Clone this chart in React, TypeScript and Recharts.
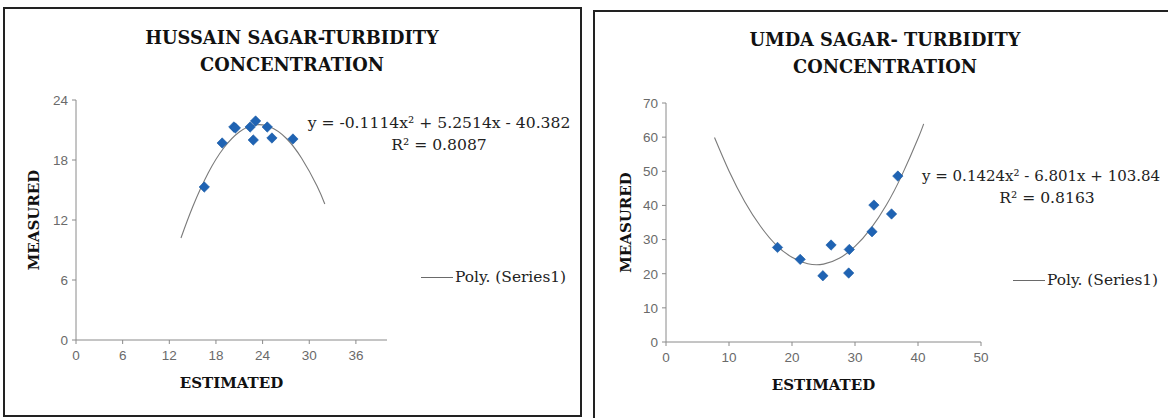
import React from 'react';
import { ScatterChart, Scatter, XAxis, YAxis, Label } from 'recharts';

// ---- Hussain Sagar (left) ----
const hsEstimated = [16.5, 18.8, 20.3, 20.5, 22.4, 22.8, 23.1, 24.6, 25.2, 27.9];
const hsMeasured = [15.3, 19.7, 21.3, 21.2, 21.3, 20.0, 21.9, 21.3, 20.2, 20.1];
const hsTrendX = [13.5, 15, 17, 19, 21, 23, 25, 27, 29, 31, 32];
const hsTrendY = [10.2, 13.3, 16.7, 19.2, 20.8, 21.5, 21.3, 20.2, 18.2, 15.4, 13.6];
const hsXTicks = [0, 6, 12, 18, 24, 30, 36];
const hsYTicks = [0, 6, 12, 18, 24];

// ---- Umda Sagar (right) ----
const usEstimated = [17.7, 21.3, 24.9, 26.2, 29.1, 29.0, 32.7, 33.0, 35.8, 36.8];
const usMeasured = [27.7, 24.2, 19.4, 28.4, 27.1, 20.2, 32.3, 40.1, 37.5, 48.6];
const usTrendX = [7.7, 10, 12.5, 15, 17.5, 20, 22.5, 25, 27.5, 30, 32.5, 35, 37.5, 40, 40.9];
const usTrendY = [59.9, 50.1, 41.1, 33.9, 28.4, 24.8, 22.9, 22.8, 24.5, 28.0, 33.2, 40.2, 49.1, 59.6, 63.9];
const usXTicks = [0, 10, 20, 30, 40, 50];
const usYTicks = [0, 10, 20, 30, 40, 50, 60, 70];

const zip = (xs: number[], ys: number[]) => xs.map((x, i) => ({ x, y: ys[i] }));

const hsPoints = zip(hsEstimated, hsMeasured);
const hsTrend = zip(hsTrendX, hsTrendY);
const usPoints = zip(usEstimated, usMeasured);
const usTrend = zip(usTrendX, usTrendY);

const POINT = '#1F63B3';
const AXIS = '#8a8a8a';
const TICK_FONT = { fill: '#6a6a6a', fontSize: 13.5, fontFamily: 'Liberation Sans, Arial, sans-serif' };
const SERIF = 'DejaVu Serif, serif';

const Diamond = (props: any) => {
  const { cx, cy } = props;
  const r = 5.2;
  return (
    <polygon
      points={`${cx},${cy - r} ${cx + r},${cy} ${cx},${cy + r} ${cx - r},${cy}`}
      fill={POINT}
      stroke="#1a5aa5"
      strokeWidth={0.6}
    />
  );
};
const NoShape = () => <g />;

const titleStyle: React.CSSProperties = {
  position: 'absolute',
  fontFamily: SERIF,
  fontWeight: 'bold',
  fontSize: 17.8,
  lineHeight: '27px',
  textAlign: 'center',
  color: '#111',
  whiteSpace: 'nowrap',
};
const eqStyle: React.CSSProperties = {
  position: 'absolute',
  fontFamily: SERIF,
  fontSize: 15.6,
  lineHeight: '22px',
  textAlign: 'center',
  color: '#222',
  whiteSpace: 'nowrap',
};
const legendText: React.CSSProperties = {
  position: 'absolute',
  fontFamily: SERIF,
  fontSize: 15.4,
  color: '#222',
  whiteSpace: 'nowrap',
  lineHeight: '18px',
};

const axisTitle = { fontFamily: SERIF, fontWeight: 'bold' as const, fontSize: 15, fill: '#111' };

export default function App() {
  return (
    <div style={{ position: 'absolute', left: 0, top: 0, width: 1168, height: 418, overflow: 'hidden', background: '#fff' }}>
      {/* Left panel */}
      <div style={{ position: 'absolute', left: 3, top: 7, width: 579, height: 410, border: '2px solid #222', boxSizing: 'border-box' }} />
      <div style={{ position: 'absolute', left: 0, top: 0 }}>
        <ScatterChart width={584} height={418} margin={{ top: 100, right: 197, bottom: 48, left: 36 }}>
          <XAxis
            type="number"
            dataKey="x"
            domain={[0, 40]}
            ticks={hsXTicks}
            allowDataOverflow
            height={30}
            stroke={AXIS}
            tick={TICK_FONT}
            tickSize={4}
            tickMargin={6}
            tickLine={{ stroke: AXIS }}
            axisLine={{ stroke: AXIS }}
          >
            <Label value="ESTIMATED" position="center" dy={28} style={axisTitle} />
          </XAxis>
          <YAxis
            type="number"
            dataKey="y"
            domain={[0, 24]}
            ticks={hsYTicks}
            allowDataOverflow
            width={40}
            stroke={AXIS}
            tick={TICK_FONT}
            tickSize={4}
            tickMargin={4}
            tickLine={{ stroke: AXIS }}
            axisLine={{ stroke: AXIS }}
          >
            <Label value="MEASURED" angle={-90} position="center" dx={-22} style={axisTitle} />
          </YAxis>
          <Scatter
            data={hsTrend}
            line={{ stroke: '#7a7a7a', strokeWidth: 1.1 }}
            lineType="joint"
            lineJointType="natural"
            shape={NoShape}
            isAnimationActive={false}
          />
          <Scatter data={hsPoints} shape={Diamond} isAnimationActive={false} />
        </ScatterChart>
      </div>
      <div style={{ ...titleStyle, left: 92, width: 400, top: 24 }}>
        HUSSAIN SAGAR-TURBIDITY
        <br />
        CONCENTRATION
      </div>
      <div style={{ ...eqStyle, left: 289, width: 300, top: 112 }}>
        y = -0.1114x² + 5.2514x - 40.382
        <br />
        R² = 0.8087
      </div>
      <div style={{ position: 'absolute', left: 421, top: 277, width: 32, height: 1.4, background: '#6a6a6a' }} />
      <div style={{ ...legendText, left: 455, top: 268 }}>Poly. (Series1)</div>

      {/* Right panel */}
      <div style={{ position: 'absolute', left: 593, top: 10, width: 600, height: 430, border: '2px solid #222', boxSizing: 'border-box' }} />
      <div style={{ position: 'absolute', left: 584, top: 0 }}>
        <ScatterChart width={584} height={418} margin={{ top: 103, right: 187, bottom: 46, left: 42 }}>
          <XAxis
            type="number"
            dataKey="x"
            domain={[0, 50]}
            ticks={usXTicks}
            allowDataOverflow
            height={30}
            stroke={AXIS}
            tick={TICK_FONT}
            tickSize={4}
            tickMargin={6}
            tickLine={{ stroke: AXIS }}
            axisLine={{ stroke: AXIS }}
          >
            <Label value="ESTIMATED" position="center" dy={28} style={axisTitle} />
          </XAxis>
          <YAxis
            type="number"
            dataKey="y"
            domain={[0, 70]}
            ticks={usYTicks}
            allowDataOverflow
            width={40}
            stroke={AXIS}
            tick={TICK_FONT}
            tickSize={4}
            tickMargin={4}
            tickLine={{ stroke: AXIS }}
            axisLine={{ stroke: AXIS }}
          >
            <Label value="MEASURED" angle={-90} position="center" dx={-20} style={axisTitle} />
          </YAxis>
          <Scatter
            data={usTrend}
            line={{ stroke: '#7a7a7a', strokeWidth: 1.1 }}
            lineType="joint"
            lineJointType="natural"
            shape={NoShape}
            isAnimationActive={false}
          />
          <Scatter data={usPoints} shape={Diamond} isAnimationActive={false} />
        </ScatterChart>
      </div>
      <div style={{ ...titleStyle, left: 685, width: 400, top: 26 }}>
        UMDA SAGAR- TURBIDITY
        <br />
        CONCENTRATION
      </div>
      <div style={{ ...eqStyle, fontSize: 15, left: 922, width: 240, top: 165, textAlign: 'left' }}>
        y = 0.1424x² - 6.801x + 103.84
      </div>
      <div style={{ ...eqStyle, left: 997, width: 100, top: 187 }}>R² = 0.8163</div>
      <div style={{ position: 'absolute', left: 1013, top: 280, width: 32, height: 1.4, background: '#6a6a6a' }} />
      <div style={{ ...legendText, left: 1047, top: 271 }}>Poly. (Series1)</div>
    </div>
  );
}
